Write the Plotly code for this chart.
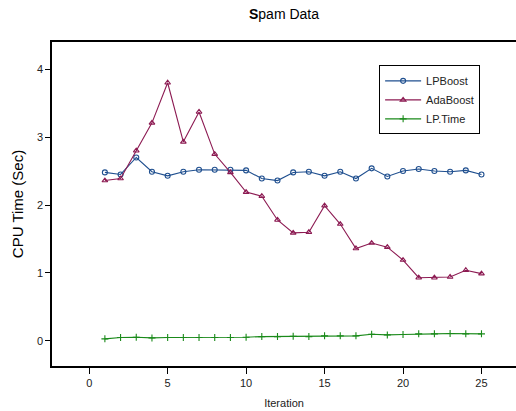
import plotly.graph_objects as go

iterations = list(range(1, 26))
lpboost = [2.48, 2.45, 2.70, 2.49, 2.43, 2.49, 2.52, 2.52, 2.52, 2.51, 2.39, 2.36, 2.48,
           2.49, 2.43, 2.49, 2.39, 2.54, 2.42, 2.50, 2.53, 2.50, 2.49, 2.51, 2.45]
adaboost = [2.36, 2.39, 2.80, 3.21, 3.80, 2.93, 3.37, 2.75, 2.48, 2.19, 2.13, 1.78, 1.59,
            1.60, 1.99, 1.72, 1.36, 1.44, 1.38, 1.19, 0.93, 0.93, 0.94, 1.04, 0.99]
lptime = [0.03, 0.05, 0.054, 0.044, 0.05, 0.05, 0.05, 0.05, 0.05, 0.054, 0.063, 0.063, 0.069,
          0.063, 0.074, 0.074, 0.074, 0.098, 0.088, 0.093, 0.103, 0.103, 0.108, 0.103, 0.103]
series_names = ["LPBoost", "AdaBoost", "LP.Time"]
x_ticks = [0, 5, 10, 15, 20, 25]
y_ticks = [0, 1, 2, 3, 4]

blue = "#1f4f8f"
magenta = "#8c1a52"
green = "#1a8a1a"

fig = go.Figure()
fig.add_trace(go.Scatter(x=iterations, y=lpboost, name=series_names[0], mode="lines+markers",
                         line=dict(color=blue, width=1.1),
                         marker=dict(symbol="circle-open", size=5, color=blue, line=dict(width=1.1))))
fig.add_trace(go.Scatter(x=iterations, y=adaboost, name=series_names[1], mode="lines+markers",
                         line=dict(color=magenta, width=1.1),
                         marker=dict(symbol="triangle-up-open", size=5, color=magenta, line=dict(width=1.1))))
fig.add_trace(go.Scatter(x=iterations, y=lptime, name=series_names[2], mode="lines+markers",
                         line=dict(color=green, width=1.1),
                         marker=dict(symbol="cross-thin-open", size=5, color=green, line=dict(width=1.1, color=green))))

font_family = "Liberation Sans, Arial, sans-serif"
fig.update_layout(
    width=516, height=411,
    margin=dict(l=52, r=0, t=42, b=45),
    paper_bgcolor="white", plot_bgcolor="white",
    font=dict(family=font_family, size=11, color="#222"),
    title=dict(text="<b>S</b>pam Data", x=(284) / 516, xanchor="center", y=0.965, yanchor="middle",
               font=dict(size=14, color="black")),
    showlegend=True,
    legend=dict(x=0.705, y=0.928, xanchor="left", yanchor="top",
                bgcolor="white", bordercolor="black", borderwidth=1,
                font=dict(size=11, color="#222"), tracegroupgap=0, itemwidth=36),
    xaxis=dict(range=[-2.37, 27.2], tickvals=x_ticks, showgrid=False, zeroline=False,
               showline=True, linecolor="black", linewidth=1.5, mirror=True,
               ticks="outside", ticklen=6, tickcolor="black",
               title=dict(text="Iteration", font=dict(size=11), standoff=11)),
    yaxis=dict(range=[-0.37, 4.40], tickvals=y_ticks, showgrid=False, zeroline=False,
               showline=True, linecolor="black", linewidth=1.5,
               ticks="outside", ticklen=5, tickcolor="black",
               title=dict(text="CPU Time (Sec)", font=dict(size=15, color="black"), standoff=10)),
)

fig.write_html("out.html", config={"displayModeBar": False},
               post_script="document.body.style.margin='0';document.body.style.overflow='hidden';")
